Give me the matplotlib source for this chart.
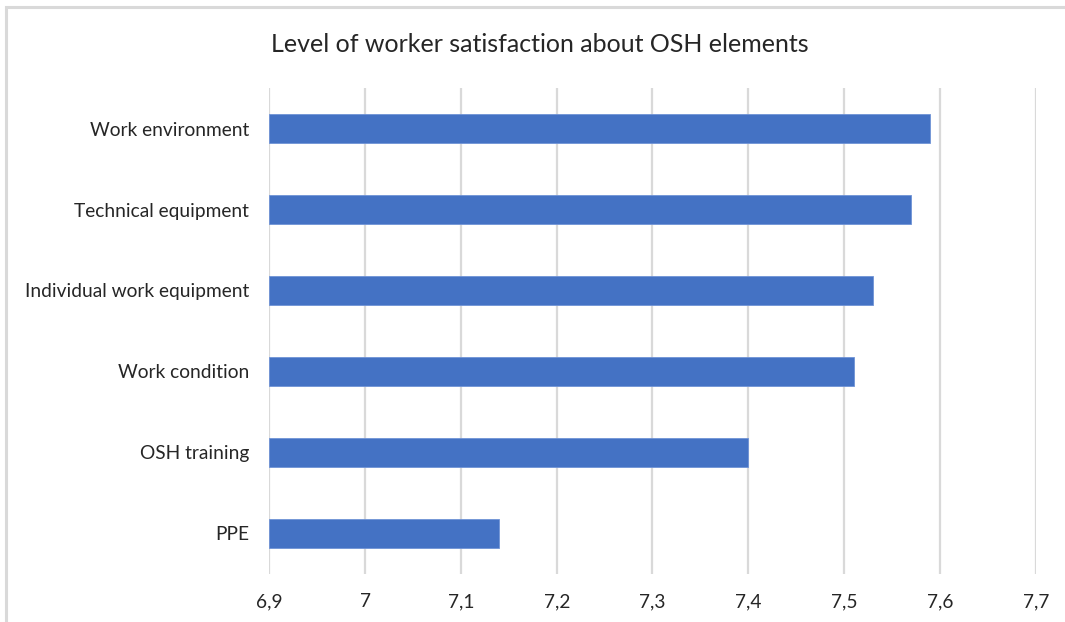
import matplotlib
matplotlib.use("Agg")
import matplotlib.pyplot as plt
from matplotlib.patches import Rectangle
from matplotlib.ticker import FuncFormatter

# Satisfaction scores per OSH element (bottom to top)
categories = ["PPE", "OSH training", "Work condition",
              "Individual work equipment", "Technical equipment", "Work environment"]
scores = [7.14, 7.40, 7.51, 7.53, 7.57, 7.59]
x_ticks = [6.9, 7.0, 7.1, 7.2, 7.3, 7.4, 7.5, 7.6, 7.7]

plt.rcParams["font.family"] = ["Lato", "DejaVu Sans"]

fig = plt.figure(figsize=(10.65, 6.22), dpi=100)
fig.patch.set_facecolor("white")

# Outer chart frame
fig.patches.append(Rectangle((6 / 1065, -0.05), 1.2, 1 - 7 / 622 + 0.05,
                             transform=fig.transFigure, fill=False,
                             edgecolor="#d9d9d9", linewidth=2.2, zorder=0))

ax = fig.add_axes([269.3 / 1065, 1 - 574 / 622, (1035.7 - 269.3) / 1065, (574 - 88) / 622])

base = 6.9
widths = [s - base for s in scores]
ax.barh(range(len(categories)), widths, left=base, height=0.35,
        color="#4472C4", edgecolor="#6f93d6", linewidth=0.6, zorder=3)

ax.set_xlim(6.9, 7.7)
ax.set_ylim(-0.5, len(categories) - 0.5)
ax.set_xticks(x_ticks)
ax.xaxis.set_major_formatter(FuncFormatter(
    lambda v, _: (f"{v:.1f}".rstrip("0").rstrip(".")).replace(".", ",")))
ax.set_yticks(range(len(categories)))
ax.set_yticklabels(categories)

ax.grid(axis="x", color="#d9d9d9", linewidth=1.6, zorder=0)
ax.set_axisbelow(True)
for sp in ax.spines.values():
    sp.set_visible(False)
ax.tick_params(axis="both", length=0, labelsize=13.8, colors="#262626")
ax.tick_params(axis="y", pad=14.4)
ax.tick_params(axis="x", pad=14)

fig.text(540 / 1065, 1 - 44 / 622, "Level of worker satisfaction about OSH elements",
         ha="center", va="center", fontsize=18, color="#262626")

fig.savefig("out.png", dpi=100, facecolor="white")
